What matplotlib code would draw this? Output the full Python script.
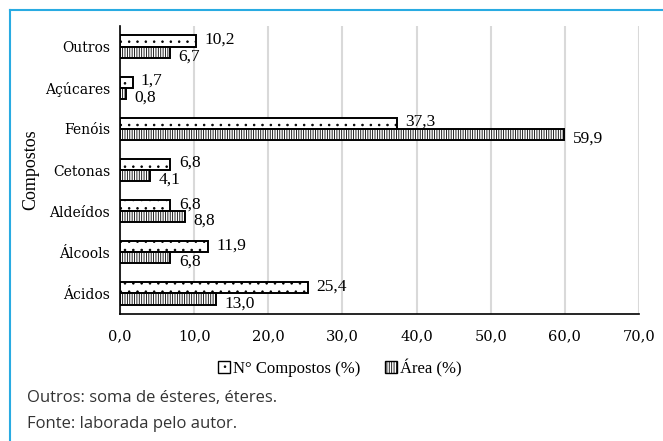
import numpy as np
import matplotlib
matplotlib.use("Agg")
import matplotlib.pyplot as plt
from matplotlib.lines import Line2D
from matplotlib.patches import Patch

categorias = ['Ácidos', 'Álcools', 'Aldeídos', 'Cetonas', 'Fenóis', 'Açúcares', 'Outros']
n_compostos = [25.4, 11.9, 6.8, 6.8, 37.3, 1.7, 10.2]
area = [13.0, 6.8, 8.8, 4.1, 59.9, 0.8, 6.7]
xticks = [0, 10, 20, 30, 40, 50, 60, 70]

plt.rcParams['hatch.linewidth'] = 0.6
plt.rcParams['font.family'] = ['Liberation Serif', 'DejaVu Serif']
serif = 'Liberation Serif'
tickfont = 'DejaVu Serif'

W, H = 663, 441
fig = plt.figure(figsize=(W / 100, H / 100), dpi=100)
ax = fig.add_axes([120 / W, 1 - 314 / H, (639 - 120) / W, (314 - 26) / H])

y = np.arange(len(categorias))
h = 0.27
b1 = ax.barh(y + h / 2, n_compostos, height=h, color='white', edgecolor='black',
             linewidth=1.4, hatch='..', zorder=3)
b2 = ax.barh(y - h / 2, area, height=h, color='white', edgecolor='black',
             linewidth=1.4, hatch='|||||||', zorder=3)

for yi, v in zip(y, n_compostos):
    ax.annotate(f"{v:.1f}".replace('.', ','), (v, yi + h / 2), xytext=(6, 1),
                textcoords='offset points', va='center', ha='left',
                fontsize=12.5, family=serif)
for yi, v in zip(y, area):
    ax.annotate(f"{v:.1f}".replace('.', ','), (v, yi - h / 2), xytext=(6, -3),
                textcoords='offset points', va='center', ha='left',
                fontsize=12.5, family=serif)

ax.set_xlim(0, 70)
ax.set_ylim(-0.5, len(categorias) - 0.5)
ax.set_xticks(xticks)
ax.set_xticklabels([f"{t:.1f}".replace('.', ',') for t in xticks],
                   fontsize=10.5, family=tickfont)
ax.set_yticks(y)
ax.set_yticklabels(categorias, fontsize=10, family=tickfont)
ax.tick_params(length=0, pad=7)
ax.tick_params(axis='x', pad=11)
ax.grid(axis='x', color='#d9d9d9', linewidth=1.5, zorder=0)
for s in ['top', 'right']:
    ax.spines[s].set_visible(False)
ax.spines['left'].set_linewidth(1.2)
ax.spines['bottom'].set_linewidth(1.2)
ax.set_ylabel('Compostos', fontsize=13, family=serif, labelpad=4)

handles = [Patch(facecolor='white', edgecolor='black', hatch='..', label='N° Compostos (%)'),
           Patch(facecolor='white', edgecolor='black', hatch='|||||||', label='Área (%)')]
fig.legend(handles=handles, loc='center', bbox_to_anchor=(340 / W, 1 - 368 / H),
           ncol=2, frameon=False, prop={'family': serif, 'size': 12},
           handlelength=0.7, handleheight=0.7, handletextpad=0.2, columnspacing=1.5)

fig.text(27 / W, 1 - 398 / H, 'Outros: soma de ésteres, éteres.', fontsize=12,
         family='Open Sans', color='#333333', va='center')
fig.text(27 / W, 1 - 424 / H, 'Fonte: laborada pelo autor.', fontsize=12,
         family='Open Sans', color='#333333', va='center')

# moldura azul (so topo e esquerda)
fig.add_artist(Line2D([10 / W, 1.05], [1 - 10 / H, 1 - 10 / H], color='#29abe2', lw=1.5))
fig.add_artist(Line2D([10 / W, 10 / W], [-0.05, 1 - 10 / H], color='#29abe2', lw=1.5))

fig.savefig('out.png', dpi=100)
